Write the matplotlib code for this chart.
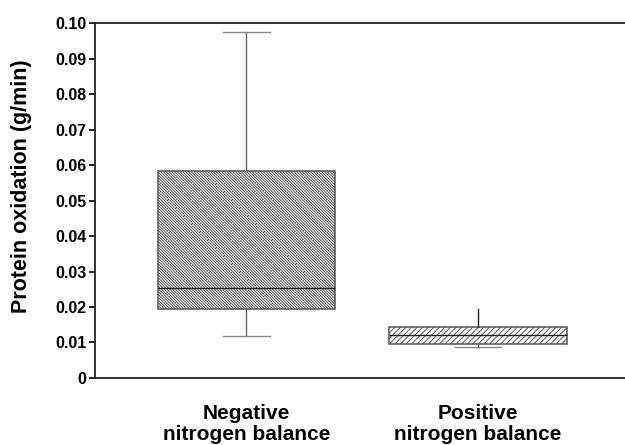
import matplotlib
matplotlib.use("Agg")
import matplotlib.pyplot as plt

plt.rcParams['font.family'] = ['Liberation Sans', 'DejaVu Sans']
plt.rcParams['hatch.linewidth'] = 0.7

groups = ["Negative\nnitrogen balance", "Positive\nnitrogen balance"]
whislo = [0.0118, 0.0087]
q1 = [0.0194, 0.0096]
med = [0.0254, 0.0121]
q3 = [0.0583, 0.0144]
whishi = [0.0975, 0.0194]
hatches = ['\\' * 12, '/' * 6]

stats = []
for i in range(len(groups)):
    stats.append({'label': groups[i], 'whislo': whislo[i], 'q1': q1[i], 'med': med[i],
                  'q3': q3[i], 'whishi': whishi[i], 'fliers': []})

fig = plt.figure(figsize=(6.25, 4.45), dpi=100)
ax = fig.add_axes([0.152, 0.1506, 0.848, 0.7974])

bp = ax.bxp(stats, positions=[1, 2], widths=0.765, patch_artist=True, showfliers=False,
            boxprops=dict(edgecolor='#555555', linewidth=1.1),
            medianprops=dict(color='#222222', linewidth=1.0),
            whiskerprops=dict(color='#666666', linewidth=1.0),
            capprops=dict(color='#888888', linewidth=1.0),
            capwidths=0.2)
for box, h in zip(bp['boxes'], hatches):
    box.set_facecolor('white')
    box.set_hatch(h)
# second group has no cap on the upper whisker
bp['caps'][3].set_visible(False)
bp['whiskers'][3].set_color('#222222')

ax.set_xlim(0.346, 2.635)
ax.set_ylim(0, 0.10)
ax.set_yticks([0, 0.01, 0.02, 0.03, 0.04, 0.05, 0.06, 0.07, 0.08, 0.09, 0.10])
ax.set_yticklabels(['0', '0.01', '0.02', '0.03', '0.04', '0.05', '0.06', '0.07', '0.08', '0.09', '0.10'],
                   fontsize=11.5, fontweight='bold')
ax.tick_params(axis='y', direction='out', length=4, width=1.2, pad=2)
ax.tick_params(axis='x', length=0, pad=19)
ax.set_xticklabels(groups, fontsize=15, fontweight='bold', linespacing=1.1)
ax.set_ylabel("Protein oxidation (g/min)", fontsize=15.5, fontweight='bold')
ax.yaxis.set_label_coords(-0.118, 0.54)

ax.spines['right'].set_visible(False)
for s in ['left', 'top', 'bottom']:
    ax.spines[s].set_linewidth(1.3)
    ax.spines[s].set_color('#222222')

fig.savefig("out.png", dpi=100)
